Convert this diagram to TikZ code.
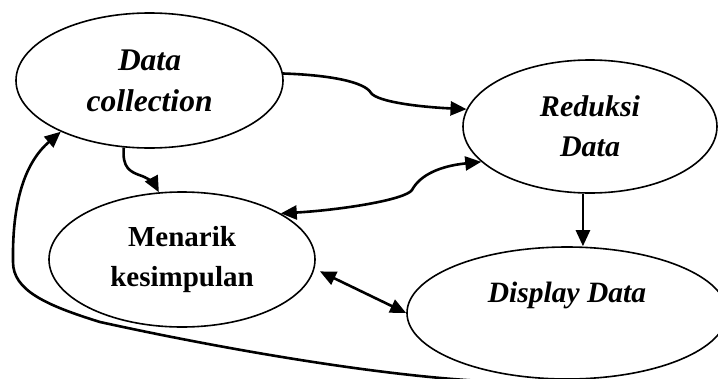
\documentclass[tikz,border=0pt]{standalone}
\usepackage{fontspec}
\setmainfont{Liberation Serif}
\usetikzlibrary{shapes.geometric,arrows.meta}
\tikzset{
  stage/.style={ellipse, draw, line width=1.6pt, inner sep=0pt, align=center,
    font=\fontsize{29}{40}\selectfont\bfseries},
  flow/.style={line width=2.6pt, -{Triangle[length=16pt,width=14pt]}},
  flowboth/.style={line width=2.6pt, {Triangle[length=16pt,width=14pt]}-{Triangle[length=16pt,width=14pt]}}
}
\begin{document}
\begin{tikzpicture}[x=1pt,y=-1pt]
\useasboundingbox (0,0) rectangle (718,378);
\node[stage, minimum width=267pt, minimum height=135pt, font=\fontsize{31.5}{41}\selectfont\bfseries\itshape] (dc) at (149.5,80.5) {Data\\collection};
\node[stage, minimum width=254pt, minimum height=133pt, font=\fontsize{30}{40}\selectfont\bfseries\itshape] (rd) at (590,126.5) {Reduksi\\Data};
\node[stage, minimum width=266pt, minimum height=135pt] (mk) at (182,259.5) {Menarik\\kesimpulan};
\node[stage, minimum width=320pt, minimum height=132pt, font=\fontsize{29.5}{40}\selectfont\bfseries\itshape] (dd) at (567,313) {Display Data\\[-10pt]\strut};
% Data collection -> Reduksi Data
\draw[flow] (dc.3) .. controls (330,75) and (365,82) .. (371,93)
  .. controls (378,102) and (420,107) .. (rd.172);
% Data collection -> Menarik kesimpulan
\draw[flow] (dc.249) .. controls (122,168) and (130,172) .. (142,176)
  .. controls (150,179) and (155,185) .. (mk.109);
% Menarik kesimpulan <-> Reduksi Data
\draw[flowboth] (mk.25) .. controls (340,210) and (405,200) .. (412,190)
  .. controls (420,175) and (440,166) .. (rd.198);
% Reduksi Data -> Display Data
\draw[flow] (rd.264) -- (rd.264 |- dd.north);
% Menarik kesimpulan <-> Display Data
\draw[flowboth, shorten <=6pt] (mk.-4) -- (dd.180);
% Display Data -> Data collection
\draw[flow] (dd.south) .. controls (470,392) and (250,355) .. (100,322)
  .. controls (45,305) and (13,290) .. (13,262)
  .. controls (12,195) and (28,160) .. (dc.210);
\end{tikzpicture}
\end{document}
